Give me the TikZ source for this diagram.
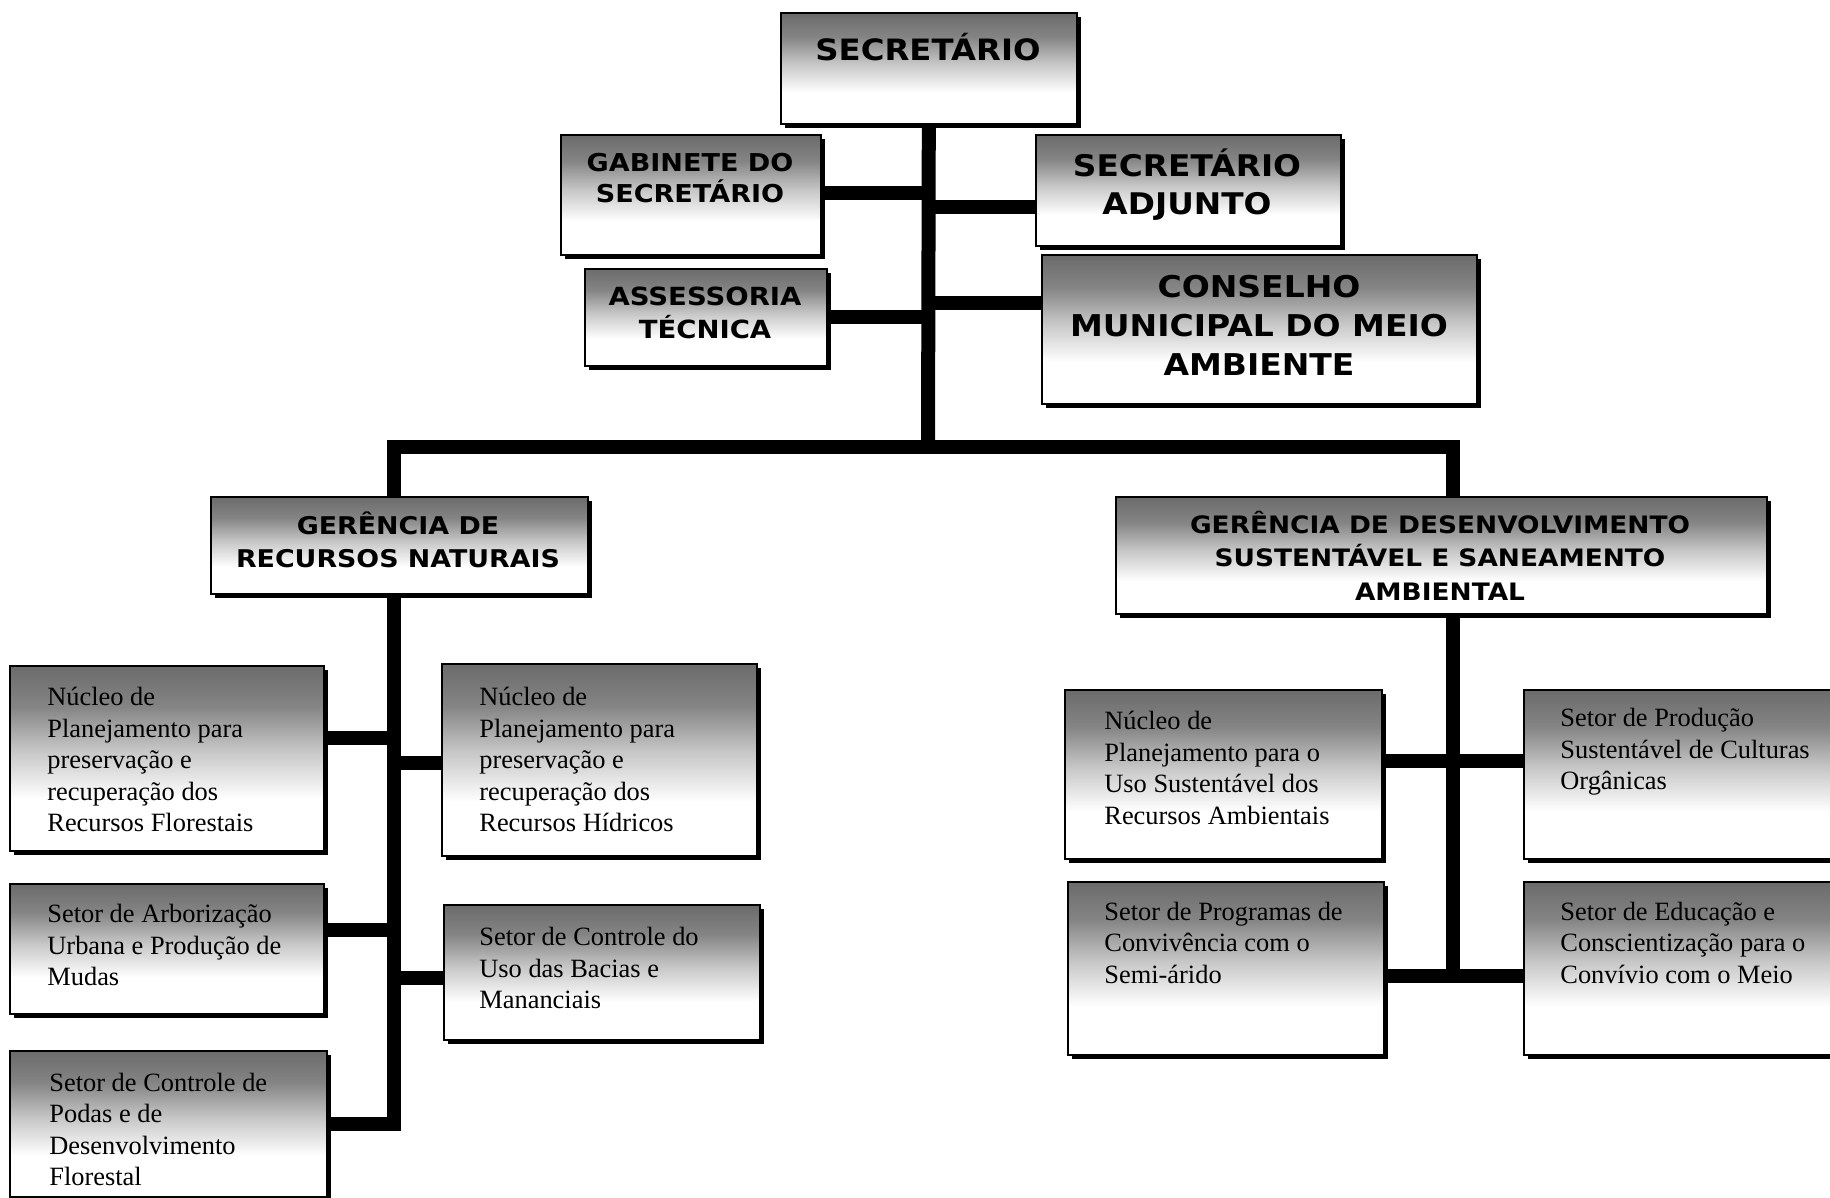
\documentclass[tikz,border=0pt]{standalone}
\usepackage{fontspec}
\setmainfont{Liberation Serif}
\newfontfamily\hdfont{DejaVu Sans}[FakeStretch=1.1]
\usetikzlibrary{shadows}
\pgfdeclareverticalshading{boxshade}{100bp}{color(0bp)=(white); color(25bp)=(white); color(39bp)=(white); color(52bp)=(black!22); color(64bp)=(black!48); color(75bp)=(black!58); color(100bp)=(black!58)}
\tikzset{
  box/.style={draw=black, line width=0.8pt, shading=boxshade, anchor=north west, inner sep=0pt,
    drop shadow={shadow xshift=2pt, shadow yshift=-2pt, fill=black, opacity=1}},
  conn/.style={line width=7pt, draw=black, line join=miter},
  hd/.style n args={2}{align=center, inner sep=0pt, font=\hdfont\bfseries\fontsize{#1}{#2}\selectfont},
  tx/.style={align=left, anchor=west, inner sep=0pt, font=\fontsize{13.2}{15.75}\selectfont},
}
\begin{document}
\begin{tikzpicture}[x=0.5pt,y=-0.5pt]
\useasboundingbox (0,0) rectangle (1830,1198);
\fill[white] (0,0) rectangle (1830,1198);

% boxes
\node[box, minimum width=148pt, minimum height=55.5pt] (sec) at (780,12) {};
\node[box, minimum width=130pt, minimum height=60pt] (gab) at (560,134) {};
\node[box, minimum width=152.5pt, minimum height=55.5pt] (adj) at (1035,134) {};
\node[box, minimum width=121pt, minimum height=48.5pt] (ass) at (584,268) {};
\node[box, minimum width=217.5pt, minimum height=74.5pt] (cons) at (1041,254) {};
\node[box, minimum width=188.5pt, minimum height=48.5pt] (grn) at (210,496) {};
\node[box, minimum width=325.5pt, minimum height=58.5pt] (gds) at (1115,496) {};
\node[box, minimum width=157pt, minimum height=92.5pt] (nf) at (9,665) {};
\node[box, minimum width=157.5pt, minimum height=96pt] (nh) at (441,663) {};
\node[box, minimum width=157pt, minimum height=65pt] (arb) at (9,883) {};
\node[box, minimum width=158pt, minimum height=67.5pt] (bac) at (443,904) {};
\node[box, minimum width=158.5pt, minimum height=73pt] (pod) at (9,1050) {};
\node[box, minimum width=158.5pt, minimum height=84.5pt] (nam) at (1064,689) {};
\node[box, minimum width=160pt, minimum height=84.5pt] (prod) at (1523,689) {};
\node[box, minimum width=158pt, minimum height=86.5pt] (prog) at (1067,881) {};
\node[box, minimum width=160pt, minimum height=86.5pt] (edu) at (1523,881) {};

% junction coordinates
\coordinate (tj) at (928,447);
\coordinate (lb) at (394,447);
\coordinate (rb) at (1453,447);
\coordinate (j1) at (928,193);
\coordinate (j2) at (928,207);
\coordinate (j3) at (928,317);
\coordinate (j4) at (928,303);
\coordinate (l1) at (394,738);
\coordinate (l2) at (394,763);
\coordinate (l3) at (394,930);
\coordinate (l4) at (394,978);
\coordinate (lend) at (394,1124);
\coordinate (r1) at (1453,761);
\coordinate (rend) at (1453,976);

% connectors
\draw[conn] (sec.south) -- (tj);
\draw[conn] (gab.east |- j1) -- (j1);
\draw[conn] (j2) -- (adj.west |- j2);
\draw[conn] (ass.east |- j3) -- (j3);
\draw[conn] (j4) -- (cons.west |- j4);
\draw[conn] (grn.north -| lb) -- (lb) -- (rb) -- (gds.north -| rb);
\draw[conn] (grn.south -| lb) -- (lend) -- (pod.east |- lend);
\draw[conn] (nf.east |- l1) -- (l1);
\draw[conn] (l2) -- (nh.west |- l2);
\draw[conn] (arb.east |- l3) -- (l3);
\draw[conn] (l4) -- (bac.west |- l4);
\draw[conn] (gds.south -| rb) -- (rend);
\draw[conn] (nam.east |- r1) -- (prod.west |- r1);
\draw[conn] (prog.east |- rend) -- (edu.west |- rend);

% heading texts
\node[hd={14.7}{19}] (tsec) at (928,47) {SECRETÁRIO};
\node[hd={12.3}{15.5}] (tgab) at (690,178.5) {GABINETE DO\\SECRETÁRIO};
\node[hd={14.9}{19}] (tadj) at (1187,185) {SECRETÁRIO\\ADJUNTO};
\node[hd={12.5}{16.5}] (tass) at (705,312.5) {ASSESSORIA\\TÉCNICA};
\node[hd={15}{19.5}] (tcons) at (1259,325) {CONSELHO\\MUNICIPAL DO MEIO\\AMBIENTE};
\node[hd={12.2}{16.5}] (tgrn) at (398,539.5) {GERÊNCIA DE\\RECURSOS NATURAIS};
\node[hd={12}{16.75}] (tgds) at (1440,555.5) {GERÊNCIA DE DESENVOLVIMENTO\\SUSTENTÁVEL E SANEAMENTO\\AMBIENTAL};

% serif texts
\node[tx] (tnf) at (47,759.5) {Núcleo de\\Planejamento para\\preservação e\\recuperação dos\\Recursos Florestais};
\node[tx] (tnh) at (479,759.5) {Núcleo de\\Planejamento para\\preservação e\\recuperação dos\\Recursos Hídricos};
\node[tx] (tarb) at (47,945) {Setor de Arborização\\Urbana e Produção de\\Mudas};
\node[tx] (tbac) at (479,968) {Setor de Controle do\\Uso das Bacias e\\Mananciais};
\node[tx] (tpod) at (49,1129.5) {Setor de Controle de\\Podas e de\\Desenvolvimento\\Florestal};
\node[tx] (tnam) at (1104,768) {Núcleo de\\Planejamento para o\\Uso Sustentável dos\\Recursos Ambientais};
\node[tx] (tprod) at (1560,752) {Setor de Produção\\Sustentável de Culturas\\Orgânicas};
\node[tx] (tprog) at (1104,942.5) {Setor de Programas de\\Convivência com o\\Semi-árido};
\node[tx] (tedu) at (1560,942.5) {Setor de Educação e\\Conscientização para o\\Convívio com o Meio};
\end{tikzpicture}
\end{document}
